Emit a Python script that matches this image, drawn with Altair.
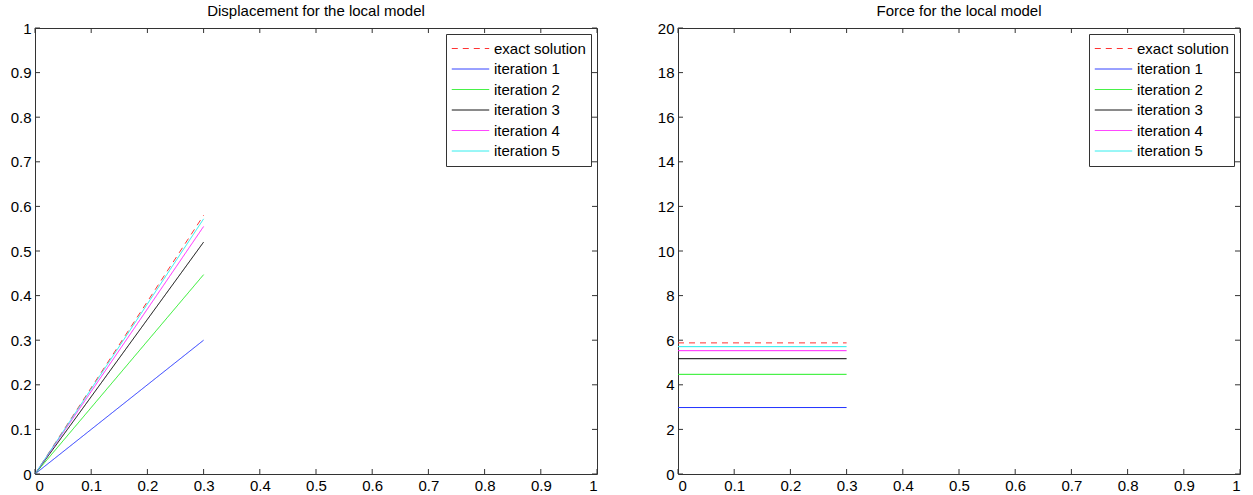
import altair as alt
import pandas as pd

series = ["exact solution", "iteration 1", "iteration 2", "iteration 3", "iteration 4", "iteration 5"]
colors = ["#ff3333", "#2233ff", "#22ee22", "#000000", "#ff22ff", "#22eeee"]
dashes = [[6, 5], [1, 0], [1, 0], [1, 0], [1, 0], [1, 0]]
x_start = 0.0
x_end = 0.3
disp_end = [0.58, 0.30, 0.447, 0.52, 0.555, 0.572]
force_val = [5.88, 2.98, 4.47, 5.17, 5.53, 5.71]
x_ticks = [0, 0.1, 0.2, 0.3, 0.4, 0.5, 0.6, 0.7, 0.8, 0.9, 1]
disp_ticks = [0, 0.1, 0.2, 0.3, 0.4, 0.5, 0.6, 0.7, 0.8, 0.9, 1]
force_ticks = [0, 2, 4, 6, 8, 10, 12, 14, 16, 18, 20]

W, H = 562, 446
FONT = "Liberation Sans"

disp_rows, force_rows = [], []
for s, d, f in zip(series, disp_end, force_val):
    disp_rows += [{"series": s, "x": x_start, "y": 0.0}, {"series": s, "x": x_end, "y": d}]
    force_rows += [{"series": s, "x": x_start, "y": f}, {"series": s, "x": x_end, "y": f}]


def panel(rows, yticks, ymax, title):
    xs = alt.Scale(domain=[0, 1], nice=False, zero=False)
    ys = alt.Scale(domain=[0, ymax], nice=False, zero=False)
    lines = alt.Chart(pd.DataFrame(rows)).mark_line(strokeWidth=1).encode(
        x=alt.X("x:Q", scale=xs, axis=alt.Axis(values=x_ticks, format="~g", title=None)),
        y=alt.Y("y:Q", scale=ys, axis=alt.Axis(values=yticks, format="~g", title=None)),
        color=alt.Color("series:N", scale=alt.Scale(domain=series, range=colors),
                        legend=alt.Legend(title=None)),
        strokeDash=alt.StrokeDash("series:N", scale=alt.Scale(domain=series, range=dashes),
                                  legend=alt.Legend(title=None)),
    )
    xt = pd.DataFrame({"t": x_ticks})
    yt = pd.DataFrame({"t": yticks})
    tick_style = dict(color="#333333", strokeWidth=1)
    bottom = alt.Chart(xt).mark_rule(**tick_style).encode(
        x=alt.X("t:Q", scale=xs), y=alt.value(H), y2=alt.value(H - 5))
    top = alt.Chart(xt).mark_rule(**tick_style).encode(
        x=alt.X("t:Q", scale=xs), y=alt.value(0), y2=alt.value(5))
    left = alt.Chart(yt).mark_rule(**tick_style).encode(
        y=alt.Y("t:Q", scale=ys), x=alt.value(0), x2=alt.value(5))
    right = alt.Chart(yt).mark_rule(**tick_style).encode(
        y=alt.Y("t:Q", scale=ys), x=alt.value(W), x2=alt.value(W - 5))
    return alt.layer(lines, bottom, top, left, right).properties(
        width=W, height=H,
        title=alt.TitleParams(title, fontSize=15, fontWeight="normal", font=FONT, offset=2),
    )


left_panel = panel(disp_rows, disp_ticks, 1, "Displacement for the local model")
right_panel = panel(force_rows, force_ticks, 20, "Force for the local model")

chart = alt.hconcat(left_panel, right_panel, spacing=58).resolve_scale(
    color="independent", strokeDash="independent"
).resolve_legend(color="independent", strokeDash="independent").properties(
    padding={"left": 9, "top": 3, "right": 6, "bottom": 2},
    background="white",
).configure_view(stroke="#333333", strokeWidth=1).configure_axis(
    ticks=False, domain=False, grid=False, labelFont=FONT, labelFontSize=15,
    labelColor="black", labelPadding=4,
).configure_legend(
    orient="top-right", offset=6, strokeColor="#333333", fillColor="white",
    padding=5, labelFont=FONT, labelFontSize=15, labelColor="black",
    symbolType="stroke", symbolStrokeWidth=1, symbolSize=1400, labelLimit=300,
    clipHeight=19, rowPadding=1.5, labelOffset=4,
).configure_title(anchor="middle", color="black")

chart.save("out.html", embed_options={"renderer": "svg", "actions": False})
